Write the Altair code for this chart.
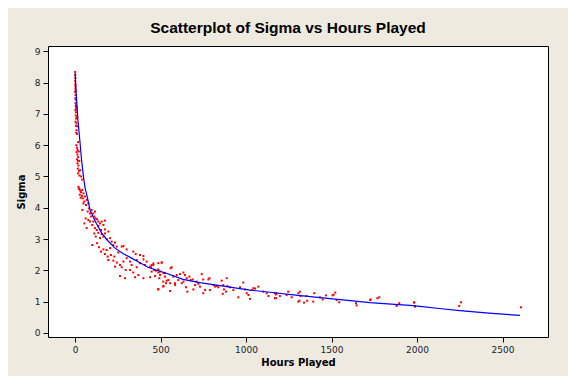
import altair as alt
import pandas as pd

# Scatter points (Hours Played, Sigma)
hours = [
    1, 1, 2, 1, 2, 3, 2, 4, 1, 3, 2, 5, 3, 4, 6, 2, 5, 8, 6, 8,
    4, 6, 3, 8, 5, 9, 11, 7, 8, 12, 15, 9, 14, 18, 11, 17,
    14, 20, 16, 23, 18, 26, 20, 25, 30, 35, 28, 40, 33, 22,
    30, 36, 25, 42, 22, 18, 12, 14,
    43, 49, 58, 45, 54, 68, 49, 64, 78, 43, 82, 74, 88, 97, 107, 117, 94, 62,
    78, 113, 121, 129, 88, 107, 136, 146, 156, 175, 55, 101, 136, 166, 68, 117,
    127, 152, 175, 113, 136, 156, 175, 195, 121, 146, 166, 185, 205, 214, 234, 224,
    101, 129, 140, 152, 166, 185, 205, 244, 273, 283, 302, 175, 191, 210, 230, 253,
    341, 355, 380, 400, 195, 224, 244, 263, 283, 302, 322, 361, 400, 419, 234, 273,
    296, 331, 361, 380, 409, 439, 458, 487, 507, 263, 292, 351, 370, 400, 439, 468,
    487, 497, 516, 516, 487, 526, 322, 448, 341,
    448, 458, 444, 462, 474, 487, 507, 497, 517, 493, 526, 536, 546, 556, 559, 565,
    575, 585, 487, 517, 532, 556, 585, 595, 604, 614, 624, 634, 643, 653, 634, 669,
    676, 688, 649, 657, 692, 702, 711, 721, 731, 741, 750, 760, 750, 780, 786, 789,
    809, 819, 828, 838, 858, 867, 871, 864, 883, 887, 891, 906, 926, 955, 965, 984,
    994, 1004, 1014, 1023, 1033, 1043, 1053, 1072, 1101, 1121, 1131, 1175, 1179,
    1169, 1175, 1198, 1169, 1237, 1247, 1267, 1306, 1315, 1319, 1306, 1312, 1339, 1358,
    1354, 1393, 1399, 1432, 1448, 1467, 1506, 1512, 1522, 1530, 1545, 1643, 1647, 1725,
    1729, 1768, 1779, 1881, 1896, 1982, 1988,
    1984, 1988, 2257, 2247, 2608,
]
sigma = [
    8.34, 8.25, 8.15, 8.05, 7.95, 7.90, 7.82, 7.75, 7.70, 7.60, 7.50, 7.45, 7.35, 7.25, 7.20, 7.12, 7.05, 7.15, 7.28, 7.22,
    6.95, 6.85, 6.75, 6.70, 6.62, 6.48, 6.36, 6.40, 6.00, 5.92, 5.85, 5.78, 5.70, 5.62, 5.55, 5.50,
    5.42, 5.35, 5.25, 5.18, 5.10, 5.03, 4.67, 4.60, 4.55, 4.50, 4.42, 4.38, 4.32, 4.62,
    5.20, 5.00, 5.50, 4.90, 5.80, 6.10, 6.90, 6.60,
    4.57, 4.46, 4.36, 4.30, 4.20, 4.25, 4.14, 4.09, 4.14, 3.93, 3.98, 3.88, 3.82, 3.93, 3.82, 3.88, 3.72, 3.66,
    3.61, 3.72, 3.66, 3.63, 3.56, 3.56, 3.56, 3.50, 3.56, 3.59, 3.50, 3.45, 3.42, 3.45, 3.35, 3.35,
    3.29, 3.29, 3.31, 3.18, 3.20, 3.16, 3.18, 3.24, 3.08, 3.03, 3.08, 2.99, 3.03, 2.92, 2.89, 2.81,
    2.81, 2.87, 2.74, 2.60, 2.67, 2.65, 2.71, 2.76, 2.76, 2.78, 2.67, 2.52, 2.44, 2.49, 2.44, 2.57,
    2.60, 2.52, 2.49, 2.46, 2.33, 2.31, 2.25, 2.17, 2.28, 2.39, 2.28, 2.33, 2.35, 2.28, 2.12, 2.10,
    2.01, 2.17, 2.10, 2.23, 2.17, 2.12, 2.17, 2.23, 2.25, 1.82, 1.75, 1.78, 1.85, 1.75, 1.78, 1.82,
    1.93, 1.85, 1.64, 1.48, 1.40, 1.91, 2.01, 1.96, 1.93,
    2.17, 2.22, 2.10, 2.01, 1.99, 2.03, 2.25, 1.96, 1.91, 1.75, 1.80, 1.67, 1.69, 1.59, 2.07, 2.10,
    1.80, 1.53, 1.39, 1.50, 1.59, 1.34, 1.59, 1.85, 1.69, 1.88, 1.59, 1.93, 1.85, 1.75, 1.64, 1.80,
    1.69, 1.71, 1.46, 1.32, 1.39, 1.53, 1.64, 1.57, 1.48, 1.88, 1.71, 1.37, 1.27, 1.71, 1.75, 1.37,
    1.53, 1.48, 1.50, 1.46, 1.67, 1.53, 1.39, 1.25, 1.32, 1.75, 1.50, 1.46, 1.37, 1.14, 1.46, 1.61,
    1.39, 1.27, 1.21, 1.09, 1.37, 1.43, 1.42, 1.48, 1.32, 1.27, 1.18, 1.11, 1.27,
    1.27, 1.23, 1.18, 1.11, 1.21, 1.32, 1.14, 1.27, 1.32, 1.18, 1.00, 1.03, 0.97, 1.03,
    1.18, 1.00, 1.27, 1.14, 1.07, 1.20, 1.20, 1.22, 1.29, 1.05, 0.98, 0.95, 0.88, 1.05,
    1.07, 1.11, 1.14, 0.86, 0.95, 0.97, 0.84,
    0.98, 0.86, 0.98, 0.86, 0.82,
]

# Fitted curve
fit_hours = [1, 4, 8, 17, 29, 37, 47, 58, 73, 88, 105, 125, 156, 195, 234, 280, 331,
             380, 427, 475, 521, 632, 730, 828, 925, 1023, 1140, 1290, 1433, 1580,
             1725, 1870, 1959, 2018, 2130, 2251, 2420, 2602]
fit_sigma = [8.30, 7.90, 7.55, 6.80, 6.10, 5.60, 5.10, 4.66, 4.31, 3.93, 3.72, 3.50,
             3.19, 2.93, 2.71, 2.54, 2.39, 2.24, 2.10, 2.01, 1.93, 1.71, 1.61, 1.53,
             1.45, 1.37, 1.30, 1.21, 1.13, 1.05, 0.97, 0.91, 0.88, 0.85, 0.78, 0.71,
             0.63, 0.56]

x_ticks = [0, 500, 1000, 1500, 2000, 2500]
y_ticks = [0, 1, 2, 3, 4, 5, 6, 7, 8, 9]

pts = pd.DataFrame({"Hours Played": hours, "Sigma": sigma})
fit = pd.DataFrame({"Hours Played": fit_hours, "Sigma": fit_sigma})

FONT = "DejaVu Sans"

xs = alt.Scale(domain=[-158, 2766], nice=False, zero=False)
ys = alt.Scale(domain=[-0.13, 9.17], nice=False, zero=False)


def xax():
    return alt.Axis(values=x_ticks, title="Hours Played", grid=False, format="d",
                    labelOverlap=False)


def yax():
    return alt.Axis(values=y_ticks, title="Sigma", grid=False, format="d",
                    labelOverlap=False, tickCount=10)


scatter = alt.Chart(pts).mark_square(size=4, color="#FF0000", opacity=1).encode(
    x=alt.X("Hours Played:Q", scale=xs, axis=xax()),
    y=alt.Y("Sigma:Q", scale=ys, axis=yax()),
)

line = alt.Chart(fit).mark_line(color="#0000FF", strokeWidth=1.2).encode(
    x=alt.X("Hours Played:Q", scale=xs, axis=xax()),
    y=alt.Y("Sigma:Q", scale=ys, axis=yax()),
)

chart = (
    alt.layer(scatter, line)
    .properties(
        width=500,
        height=291,
        title=alt.TitleParams(
            "Scatterplot of Sigma vs Hours Played",
            font="Liberation Sans",
            fontSize=15.5,
            fontWeight="bold",
            color="#000000",
            anchor="middle",
            dx=-10,
            offset=10,
        ),
        autosize=alt.AutoSizeParams(type="none"),
        padding={"left": 40, "top": 38, "right": 20, "bottom": 39},
        background="#EEEAE0",
    )
    .configure_view(stroke="#000000", strokeWidth=1, fill="#FFFFFF")
    .configure_axis(
        domain=False,
        tickColor="#000000",
        tickSize=5,
        tickWidth=1,
        labelFont=FONT,
        labelFontSize=9,
        labelColor="#1a1a2a",
        labelPadding=3,
        titleFont=FONT,
        titleFontSize=10,
        titleFontWeight="bold",
        titleColor="#000000",
    )
    .configure_axisX(titlePadding=3)
    .configure_axisY(titlePadding=8)
)

chart.save("out.html", embed_options={"renderer": "svg", "actions": False})
